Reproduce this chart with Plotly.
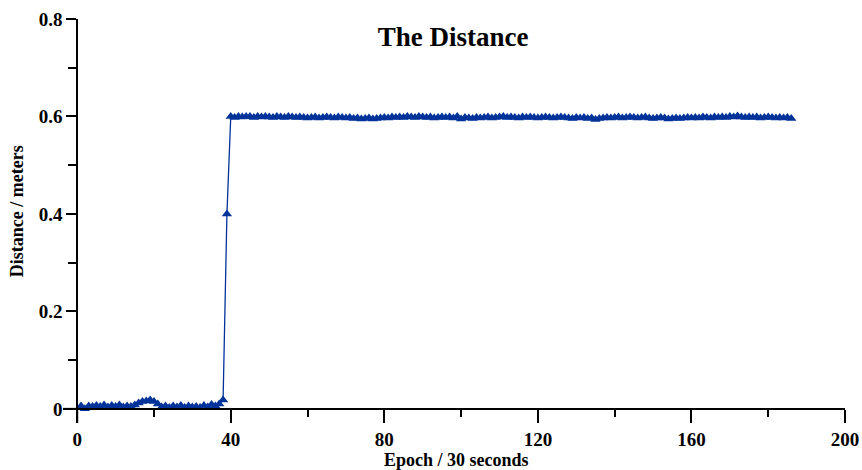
import plotly.graph_objects as go

epochs = list(range(1, 187))

low_values = [
    0.006, 0.000, 0.006, 0.005, 0.007, 0.005, 0.008, 0.004, 0.007, 0.005,
    0.008, 0.004, 0.006, 0.005, 0.008, 0.012, 0.015, 0.016, 0.018, 0.015,
    0.010, 0.004, 0.006, 0.003, 0.006, 0.004, 0.007, 0.003, 0.006, 0.004,
    0.005, 0.003, 0.007, 0.004, 0.009, 0.006, 0.010, 0.018, 0.400,
]
plateau_values = [
    0.600, 0.598, 0.600, 0.599, 0.600, 0.600, 0.598, 0.600, 0.599, 0.600,
    0.599, 0.598, 0.600, 0.599, 0.598, 0.600, 0.599, 0.598, 0.599, 0.598,
    0.597, 0.598, 0.599, 0.597, 0.598, 0.599, 0.598, 0.597, 0.599, 0.598,
    0.597, 0.598, 0.596, 0.597, 0.595, 0.596, 0.597, 0.595, 0.596, 0.597,
    0.598, 0.597, 0.599, 0.598, 0.599, 0.598, 0.600, 0.599, 0.598, 0.600,
    0.599, 0.598, 0.599, 0.597, 0.598, 0.599, 0.598, 0.599, 0.597, 0.600,
    0.595, 0.598, 0.597, 0.596, 0.598, 0.597, 0.598, 0.599, 0.597, 0.598,
    0.599, 0.600, 0.598, 0.599, 0.598, 0.597, 0.599, 0.598, 0.599, 0.598,
    0.597, 0.598, 0.599, 0.598, 0.597, 0.598, 0.599, 0.598, 0.597, 0.596,
    0.598, 0.597, 0.598, 0.596, 0.597, 0.594, 0.596, 0.597, 0.598, 0.597,
    0.598, 0.599, 0.597, 0.598, 0.599, 0.598, 0.597, 0.598, 0.599, 0.597,
    0.596, 0.597, 0.598, 0.597, 0.595, 0.596, 0.597, 0.596, 0.597, 0.598,
    0.597, 0.598, 0.597, 0.599, 0.598, 0.597, 0.599, 0.598, 0.599, 0.598,
    0.600, 0.599, 0.601, 0.599, 0.598, 0.599, 0.598, 0.599, 0.597, 0.598,
    0.599, 0.598, 0.597, 0.598, 0.597, 0.598, 0.596,
]
distance = low_values + plateau_values

x_ticks = [0, 40, 80, 120, 160, 200]
x_tick_labels = ["0", "40", "80", "120", "160", "200"]
y_ticks = [0, 0.2, 0.4, 0.6, 0.8]
y_tick_labels = ["0", "0.2", "0.4", "0.6", "0.8"]

title_text = "The Distance"
x_title = "Epoch / 30 seconds"
y_title = "Distance / meters"

FONT = "Liberation Serif, Times New Roman, serif"
BLUE = "#00339a"

x_range = [-3.7, 200]
y_range = [-0.029, 0.8]

ML, MR, MT, MB = 62.7, 17, 19, 47
PW = 862 - ML - MR
PH = 470 - MT - MB

fig = go.Figure()
fig.add_trace(go.Scatter(
    x=epochs, y=distance, mode="lines+markers",
    line=dict(color=BLUE, width=1.3),
    marker=dict(symbol="triangle-up", size=9, color=BLUE),
    showlegend=False, cliponaxis=False,
))

x_pos = (0 - y_range[0]) / (y_range[1] - y_range[0])
y_pos = (0 - x_range[0]) / (x_range[1] - x_range[0])

fig.update_layout(
    width=862, height=470,
    margin=dict(l=ML, r=MR, t=MT, b=MB, autoexpand=False),
    paper_bgcolor="white", plot_bgcolor="white",
    font=dict(family=FONT, color="black", size=19, weight="bold"),
    title=dict(text=title_text, x=(453 - ML) / PW, xref="paper", y=1 - 37 / 470, yanchor="middle",
               xanchor="center", automargin=False,
               font=dict(family=FONT, size=27, weight="bold", color="black")),
    xaxis=dict(
        range=x_range, anchor="free", position=x_pos, automargin=False,
        showline=True, linecolor="black", linewidth=2,
        showgrid=False, zeroline=False,
        tickmode="array", tickvals=x_ticks, ticktext=x_tick_labels,
        ticks="outside", ticklen=13, tickwidth=2, tickcolor="black",
        minor=dict(dtick=20, tick0=0, ticks="outside", ticklen=7, tickwidth=2, tickcolor="black"),
        tickfont=dict(family=FONT, size=19, weight="bold"),
    ),
    yaxis=dict(
        range=y_range, anchor="free", position=y_pos, automargin=False,
        showline=True, linecolor="black", linewidth=2,
        showgrid=False, zeroline=False,
        tickmode="array", tickvals=y_ticks, ticktext=y_tick_labels,
        ticks="outside", ticklen=10, tickwidth=2, tickcolor="black",
        minor=dict(dtick=0.1, tick0=0, ticks="outside", ticklen=8, tickwidth=2, tickcolor="black"),
        tickfont=dict(family=FONT, size=19, weight="bold"),
    ),
)

# extend axes beyond the origin like the reference
fig.add_shape(type="line", xref="x", yref="paper", x0=0, x1=0, y0=0, y1=x_pos,
              line=dict(color="black", width=2))
fig.add_shape(type="line", xref="paper", yref="y", x0=0, x1=y_pos, y0=0, y1=0,
              line=dict(color="black", width=2))

fig.add_annotation(text=x_title, xref="paper", yref="paper",
                   x=(456 - ML) / PW, y=-(460 - (470 - MB)) / PH,
                   showarrow=False, xanchor="center", yanchor="middle",
                   font=dict(family=FONT, size=18, weight="bold"))
fig.add_annotation(text=y_title, xref="paper", yref="paper",
                   x=-(ML - 17) / PW, y=((470 - MB) - 211) / PH, textangle=-90,
                   showarrow=False, xanchor="center", yanchor="middle",
                   font=dict(family=FONT, size=18, weight="bold"))

fig.write_html("out.html", config={"displayModeBar": False},
               post_script="document.body.style.margin='0';document.body.style.overflow='hidden';")
